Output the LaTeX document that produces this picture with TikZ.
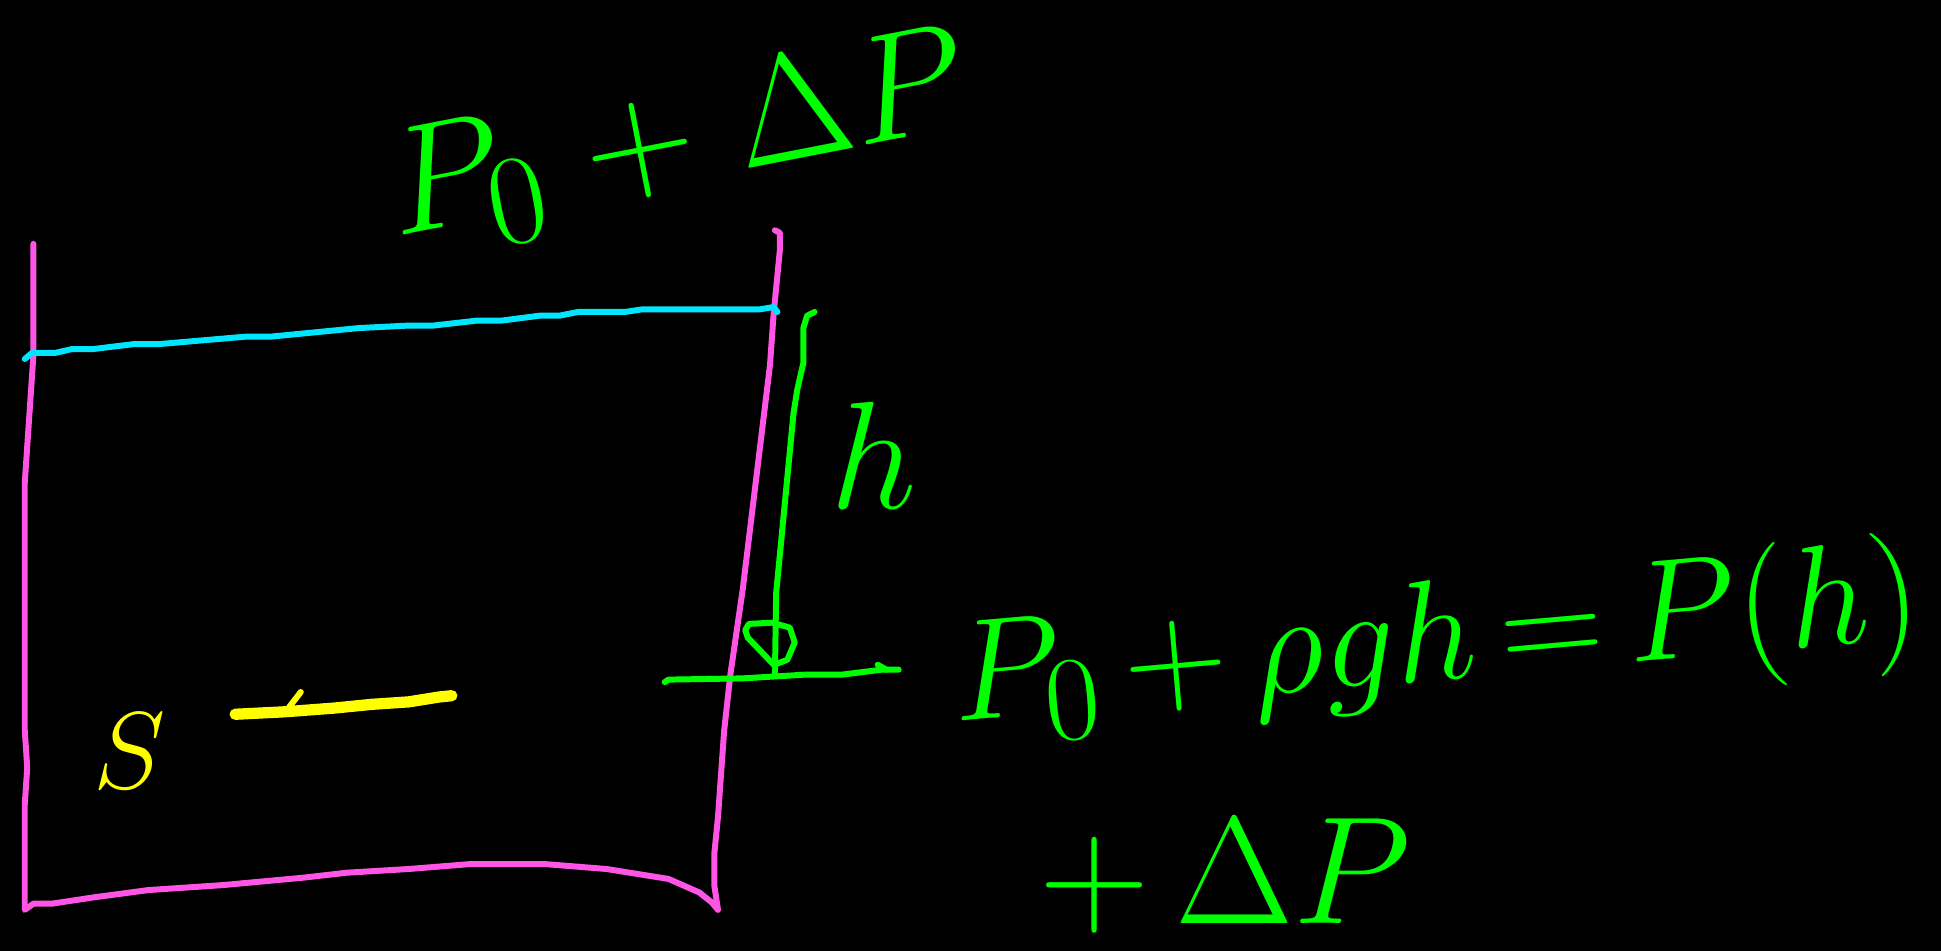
\documentclass[tikz,border=0pt]{standalone}
\usepackage{amsmath}
\usepackage{tikz}
\usetikzlibrary{positioning}

\definecolor{penpink}{RGB}{255,85,230}
\definecolor{pencyan}{RGB}{0,230,255}
\definecolor{pengreen}{RGB}{0,255,0}
\definecolor{penyellow}{RGB}{255,255,0}

\begin{document}
\begin{tikzpicture}[
    x=0.01238cm, y=-0.01238cm,
    every node/.style={font=\Huge, text=pengreen, inner sep=0pt},
    pen/.style={line width=1.7pt, line join=round, line cap=round},
    wall/.style={pen, draw=penpink},
    surface/.style={pen, draw=pencyan},
    marker/.style={pen, draw=pengreen},
    area/.style={pen, draw=penyellow, line width=3.2pt},
    formula/.style={scale=1.75},
  ]

  \fill[black] (0,0) rectangle (1568,768);
  \useasboundingbox (0,0) rectangle (1568,768);

  % Container
  \draw[wall] (27,197) -- (27,210) -- (27,287) -- (20,390) -- (20,590)
    -- (22,620) -- (20,650) -- (20,735) -- (27,730) -- (42,730) -- (75,725)
    -- (120,719) -- (180,715) -- (245,709) -- (280,705) -- (330,702)
    -- (380,698) -- (440,698) -- (490,702) -- (540,710) -- (565,721)
    -- (575,729) -- (580,735) -- (577,715) -- (577,690) -- (580,660)
    -- (585,590) -- (590,545) -- (600,476) -- (622,295) -- (625,253)
    -- (630,202) -- (630,188) -- (626,186);

  % Water surface
  \draw[surface] (20,290) -- (26,285) -- (45,285) -- (58,282) -- (75,282)
    -- (108,278) -- (128,278) -- (198,272) -- (218,272) -- (290,265)
    -- (330,263) -- (350,263) -- (385,259) -- (405,259) -- (436,255)
    -- (452,255) -- (467,252) -- (505,252) -- (518,250) -- (613,250)
    -- (625,248) -- (628,252);

  % Area S
  \node[text=penyellow, scale=1.25] (slab) at (105,607) {$S$};
  \draw[area] (190,577) -- (230,575) -- (270,572) -- (300,569) -- (330,567)
    -- (355,563) -- (365,562);
  \draw[pen, draw=penyellow] (233,572) -- (243,559);

  % Depth marker
  \coordinate (htop) at (658,252);
  \coordinate (hbot) at (626,545);
  \coordinate (lvlL) at (537,551);
  \coordinate (lvlR) at (726,541);
  \draw[marker] (htop) -- (652,255) -- (649,265) -- (649,293) -- (644,315)
    -- (641,334) -- (627,479) -- (hbot);
  \draw[marker] (lvlL) -- (540,549) -- (600,548) -- (650,545) -- (680,545)
    -- (712,541) -- (lvlR);
  \draw[marker] (709,537) -- (716,541);
  \draw[marker] (628,536) -- (636,533) -- (642,519) -- (638,507) -- (624,503)
    -- (605,504) -- (602,509) -- (604,515) -- (626,538);
  \node[formula] (hlab) at (706,368) {$h$};

  % Pressures
  \node[formula, scale=1.0, rotate=11] (topeq) at (548,116)
    {$P_{0}\;{+}\;\Delta P$};
  \node[formula, scale=0.94, rotate=5] (eq) at (1160,520)
    {$P_{0}\,{+}\,\rho g h\,{=}\,P(h)$};
  \node[formula] (eqcont) at (990,708) {${+}\,\Delta P$};
\end{tikzpicture}
\end{document}
